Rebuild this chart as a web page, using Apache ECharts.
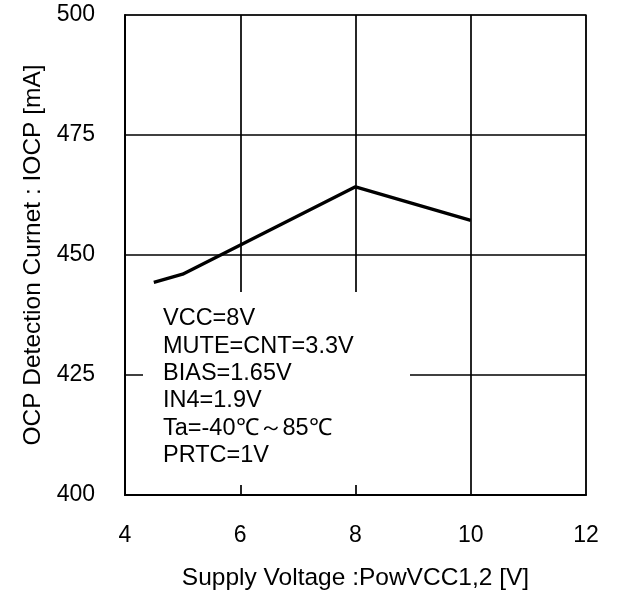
<!DOCTYPE html>
<html><head><meta charset="utf-8">
<script src="https://cdn.jsdelivr.net/npm/echarts@6/dist/echarts.min.js"></script>
<style>html,body{margin:0;padding:0;background:#fff}#c{width:617px;height:596px}</style>
</head><body><div id="c"></div>
<script>
const xValues = [4.5, 5, 8, 10];
const ocpCurrent = [444.3, 446, 464.2, 457.2];
const conditions = ['VCC=8V', 'MUTE=CNT=3.3V', 'BIAS=1.65V', 'IN4=1.9V', 'Ta=-40℃～85℃', 'PRTC=1V'];
const xName = 'Supply Voltage :PowVCC1,2 [V]';
const yName = 'OCP Detection Curnet : IOCP [mA]';

const chart = echarts.init(document.getElementById('c'));
const font = 'Liberation Sans, Arial, sans-serif';
chart.setOption({
  animation: false,
  grid: {left: 125, right: 31, top: 15, bottom: 101, show: true, borderColor: '#888', borderWidth: 2, backgroundColor: 'transparent'},
  xAxis: {
    type: 'value', min: 4, max: 12, interval: 2,
    name: xName, nameLocation: 'middle', nameGap: 71,
    nameTextStyle: {fontFamily: font, fontSize: 24.5, color: '#000'},
    axisLine: {show: true, lineStyle: {color: '#000', width: 2}},
    axisTick: {show: false},
    axisLabel: {fontFamily: font, fontSize: 23, color: '#000', margin: 29},
    splitLine: {show: true, lineStyle: {color: '#000', width: 1.7}}
  },
  yAxis: {
    type: 'value', min: 400, max: 500, interval: 25,
    name: yName, nameLocation: 'middle', nameGap: 72,
    nameTextStyle: {fontFamily: font, fontSize: 24.5, color: '#000'},
    axisLine: {show: true, lineStyle: {color: '#000', width: 2}},
    axisTick: {show: false},
    axisLabel: {fontFamily: font, fontSize: 23, color: '#000', margin: 30},
    splitLine: {show: true, lineStyle: {color: '#000', width: 1.7}}
  },
  graphic: [
    {type: 'rect', shape: {x: 143, y: 292, width: 267, height: 193}, style: {fill: '#fff'}, z: 1},
    {type: 'text', left: 163, top: 305, z: 2,
     style: {text: conditions.join('\n'), fontFamily: font, fontSize: 23.5, lineHeight: 27.4, fill: '#000'}}
  ],
  series: [{
    type: 'line', data: xValues.map((x, i) => [x, ocpCurrent[i]]),
    showSymbol: false, lineStyle: {color: '#000', width: 3.3}, z: 5
  }]
});
</script></body></html>
